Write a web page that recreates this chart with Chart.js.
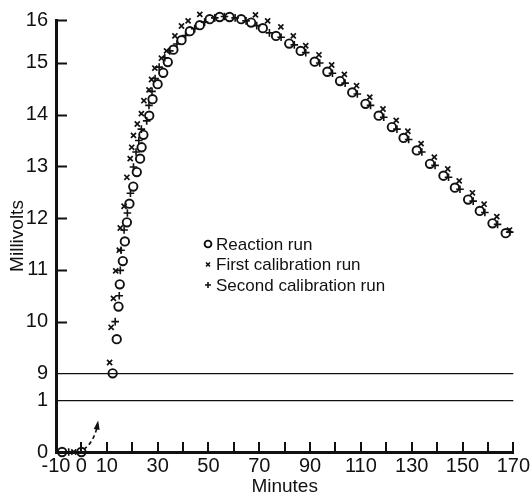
<!DOCTYPE html>
<html>
<head>
<meta charset="utf-8">
<script src="https://cdn.jsdelivr.net/npm/chart.js@4/dist/chart.umd.min.js"></script>
<style>
  html, body { margin: 0; padding: 0; background: #fff; }
</style>
</head>
<body>
<canvas id="chart" width="532" height="500"></canvas>
<script>
// values (minutes, millivolts)
const reactionMinutes = [-7.6, 0, 12.3, 13.9, 14.6, 15.1, 16.3, 17.1, 17.9, 18.9, 20.4, 21.8, 23.1, 23.7, 24.4, 26.7, 28.0, 30.0, 32.2, 34.0, 36.2, 39.4, 42.7, 46.6, 50.5, 54.4, 58.3, 62.9, 66.8, 71.4, 76.6, 81.8, 86.3, 91.8, 96.8, 101.8, 106.6, 111.8, 117.0, 122.2, 126.8, 132.0, 137.2, 142.5, 147.0, 152.2, 156.8, 161.8, 167.0];
const reactionMV = [0, 0, 9.0, 9.66, 10.29, 10.72, 11.17, 11.55, 11.92, 12.28, 12.61, 12.89, 13.15, 13.37, 13.61, 13.98, 14.3, 14.59, 14.81, 15.02, 15.31, 15.53, 15.74, 15.88, 16.02, 16.07, 16.07, 16.02, 15.94, 15.81, 15.63, 15.45, 15.28, 15.03, 14.83, 14.65, 14.43, 14.21, 13.98, 13.76, 13.55, 13.31, 13.05, 12.82, 12.59, 12.36, 12.14, 11.9, 11.71];

const firstMinutes = [-3.0, 11.1, 11.7, 12.6, 13.5, 14.9, 15.3, 16.8, 17.9, 19.2, 19.8, 20.5, 22.0, 23.6, 24.6, 26.6, 27.6, 28.9, 31.5, 33.5, 36.8, 39.4, 42.0, 46.6, 50.5, 54.4, 58.3, 62.2, 68.5, 73.3, 78.5, 83.4, 88.3, 93.5, 98.5, 103.5, 108.3, 113.5, 118.7, 123.9, 128.5, 133.7, 138.9, 144.2, 148.7, 153.9, 158.5, 163.5, 168.5];
const firstMV = [0, 9.21, 9.89, 10.45, 10.98, 11.38, 11.81, 12.23, 12.79, 13.15, 13.37, 13.6, 13.82, 14.02, 14.27, 14.48, 14.68, 14.9, 15.11, 15.28, 15.63, 15.86, 15.98, 16.13, 16.21, 16.29, 16.27, 16.23, 16.12, 15.98, 15.84, 15.63, 15.4, 15.19, 14.96, 14.78, 14.56, 14.34, 14.11, 13.89, 13.68, 13.44, 13.18, 12.95, 12.72, 12.49, 12.27, 12.03, 11.77];

const secondMinutes = [-5.0, 13.3, 14.9, 15.3, 15.6, 16.8, 18.1, 19.3, 20.5, 21.5, 22.6, 23.6, 25.7, 26.6, 27.8, 29.0, 30.6, 32.8, 34.8, 37.6, 41.0, 44.6, 48.5, 52.5, 56.3, 60.5, 64.8, 69.0, 74.0, 78.6, 83.8, 88.3, 93.8, 98.8, 103.8, 108.6, 113.8, 119.0, 124.2, 128.8, 134.0, 139.2, 144.5, 149.0, 154.2, 158.8, 163.8, 168.6];
const secondMV = [0, 10.0, 10.5, 10.99, 11.38, 11.77, 12.1, 12.48, 12.99, 13.28, 13.5, 13.72, 13.88, 14.18, 14.45, 14.7, 14.92, 15.12, 15.28, 15.44, 15.64, 15.8, 15.95, 16.05, 16.08, 16.05, 15.98, 15.87, 15.7, 15.6, 15.42, 15.24, 15.0, 14.8, 14.61, 14.4, 14.18, 13.95, 13.72, 13.52, 13.28, 13.02, 12.79, 12.56, 12.33, 12.11, 11.88, 11.73];

const seriesNames = ["Reaction run", "First calibration run", "Second calibration run"];
const xTickValues = [-10, 0, 10, 20, 30, 40, 50, 60, 70, 80, 90, 100, 110, 120, 130, 140, 150, 160, 170];
const xTickLabels = [-10, 0, 10, 30, 50, 70, 90, 110, 130, 150, 170];
const yTickLabels = [0, 1, 9, 10, 11, 12, 13, 14, 15, 16];

// broken y axis: millivolt value -> position on the drawn axis
const yBreaks = [[0, 0], [1, 1], [9, 1.52], [15, 7.52], [16, 8.35]];
function toAxis(v) {
  for (let i = 1; i < yBreaks.length; i++) {
    const [v0, u0] = yBreaks[i - 1];
    const [v1, u1] = yBreaks[i];
    if (v <= v1 || i === yBreaks.length - 1) {
      return u0 + (v - v0) * (u1 - u0) / (v1 - v0);
    }
  }
}

const pts = (xs, ys) => xs.map((m, i) => ({ x: m, y: toAxis(ys[i]) }));

const FONT = "'Liberation Sans', Arial, sans-serif";
const INK = "#111";

const marks = [
  { style: "circle", radius: 4.2, width: 1.9 },
  { style: "crossRot", radius: 3.6, width: 1.7 },
  { style: "cross", radius: 3.8, width: 1.6 },
];

function drawMark(ctx, mark, x, y) {
  ctx.save();
  ctx.strokeStyle = INK;
  ctx.lineWidth = mark.width;
  ctx.beginPath();
  const r = mark.radius;
  if (mark.style === "circle") {
    ctx.arc(x, y, r, 0, Math.PI * 2);
  } else if (mark.style === "crossRot") {
    const d = r * Math.SQRT1_2;
    ctx.moveTo(x - d, y - d); ctx.lineTo(x + d, y + d);
    ctx.moveTo(x + d, y - d); ctx.lineTo(x - d, y + d);
  } else {
    ctx.moveTo(x - r, y); ctx.lineTo(x + r, y);
    ctx.moveTo(x, y - r); ctx.lineTo(x, y + r);
  }
  ctx.stroke();
  ctx.restore();
}

const extras = {
  id: "extras",
  afterDraw(chart) {
    const { ctx, chartArea: area } = chart;
    const xs = chart.scales.x;
    const ys = chart.scales.y;
    ctx.save();
    ctx.strokeStyle = INK;
    ctx.lineWidth = 2;
    ctx.setLineDash([]);

    // inward tick marks
    ys.ticks.forEach((t, i) => {
      if (yTickLabels[i] < 10) return;
      const y = Math.round(ys.getPixelForValue(t.value)) + 0.5;
      ctx.beginPath();
      ctx.moveTo(area.left, y);
      ctx.lineTo(area.left + 11, y);
      ctx.stroke();
    });
    xTickValues.forEach(v => {
      if (v <= -10) return;
      const x = Math.round(xs.getPixelForValue(v));
      ctx.beginPath();
      ctx.moveTo(x, area.bottom);
      ctx.lineTo(x, area.bottom - 10);
      ctx.stroke();
    });

    // dashed arrow from the zero reading up to the break
    const x0 = xs.getPixelForValue(0.9), y0 = ys.getPixelForValue(0.05);
    const x1 = xs.getPixelForValue(6.4), y1 = ys.getPixelForValue(0.55);
    const cx = xs.getPixelForValue(5.2), cy = ys.getPixelForValue(0.2);
    ctx.lineWidth = 1.6;
    ctx.setLineDash([4, 3]);
    ctx.beginPath();
    ctx.moveTo(x0, y0);
    ctx.quadraticCurveTo(cx, cy, x1, y1);
    ctx.stroke();
    ctx.setLineDash([]);
    const ang = Math.atan2(y1 - cy, x1 - cx);
    ctx.fillStyle = INK;
    ctx.beginPath();
    ctx.moveTo(x1 + 3 * Math.cos(ang), y1 + 3 * Math.sin(ang));
    ctx.lineTo(x1 - 6 * Math.cos(ang) + 3 * Math.sin(ang), y1 - 6 * Math.sin(ang) - 3 * Math.cos(ang));
    ctx.lineTo(x1 - 6 * Math.cos(ang) - 3 * Math.sin(ang), y1 - 6 * Math.sin(ang) + 3 * Math.cos(ang));
    ctx.closePath();
    ctx.fill();

    // legend
    const lx = area.left + 151;
    const ly = area.top + 224;
    ctx.font = "17px " + FONT;
    ctx.textBaseline = "middle";
    ctx.fillStyle = INK;
    chart.data.datasets.forEach((ds, i) => {
      const y = ly + i * 20.5;
      drawMark(ctx, { ...marks[i], radius: marks[i].radius - 0.8 }, lx + 1, y);
      ctx.fillText(ds.label, lx + 9, y + 1);
    });
    ctx.restore();
  },
};

const datasets = [
  [reactionMinutes, reactionMV],
  [firstMinutes, firstMV],
  [secondMinutes, secondMV],
].map(([xs, ys], i) => ({
  label: seriesNames[i],
  data: pts(xs, ys),
  pointStyle: marks[i].style,
  pointRadius: marks[i].radius,
  pointBorderWidth: marks[i].width,
  pointBorderColor: INK,
  pointBackgroundColor: "rgba(0,0,0,0)",
  showLine: false,
  clip: false,
}));

new Chart(document.getElementById("chart"), {
  type: "scatter",
  data: { datasets },
  options: {
    responsive: false,
    animation: false,
    events: [],
    layout: { padding: { top: 19, right: 15, bottom: 0, left: 0 } },
    plugins: { legend: { display: false }, tooltip: { enabled: false } },
    scales: {
      x: {
        type: "linear",
        min: -10,
        max: 170,
        afterBuildTicks: (s) => { s.ticks = xTickValues.map(v => ({ value: v })); },
        afterFit: (s) => { s.height = 48; },
        ticks: {
          autoSkip: false,
          maxRotation: 0,
          padding: 2,
          color: INK,
          font: { family: FONT, size: 20 },
          callback: (v) => (xTickLabels.includes(v) ? String(v) : ""),
        },
        grid: { drawTicks: false, color: "rgba(0,0,0,0)" },
        border: { color: INK, width: 3 },
        title: {
          display: true,
          text: "Minutes",
          color: INK,
          font: { family: FONT, size: 19 },
          padding: { top: 0, bottom: 2 },
        },
      },
      y: {
        type: "linear",
        min: 0,
        max: 8.35,
        afterBuildTicks: (s) => { s.ticks = yTickLabels.map(v => ({ value: toAxis(v) })); },
        afterFit: (s) => { s.width = 56; },
        ticks: {
          autoSkip: false,
          padding: 8,
          color: INK,
          font: { family: FONT, size: 20 },
          callback: (v, i) => String(yTickLabels[i]),
        },
        grid: {
          drawTicks: false,
          lineWidth: 1.3,
          color: (c) => {
            const lab = yTickLabels[c.index];
            return lab === 1 || lab === 9 ? INK : "rgba(0,0,0,0)";
          },
        },
        border: { color: INK, width: 3 },
        title: {
          display: true,
          text: "Millivolts",
          color: INK,
          font: { family: FONT, size: 19 },
          padding: { top: 6, bottom: 0 },
        },
      },
    },
  },
  plugins: [extras],
});
</script>
</body>
</html>
